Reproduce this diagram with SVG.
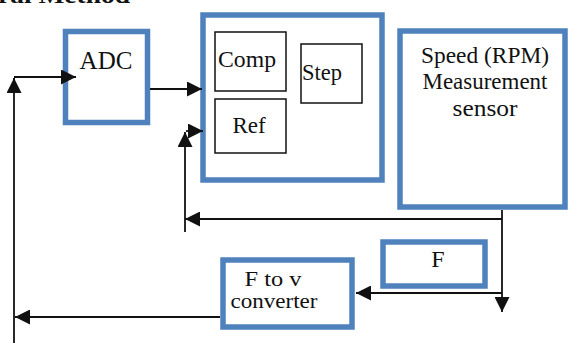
<svg xmlns="http://www.w3.org/2000/svg" width="569" height="343" viewBox="0 0 569 343">
<style>
.blk{fill:#fff;stroke:#4F81BD;stroke-width:5.5}
.inner{fill:#fff;stroke:#111;stroke-width:1.5}
.t{font-family:'Liberation Serif','DejaVu Serif','Times New Roman',Times,serif;font-size:23px;fill:#111}
.c{stroke:#111;stroke-width:1.8;fill:none}
</style>
<defs>
<marker id="ah" viewBox="0 0 10 10" refX="10" refY="5" markerUnits="userSpaceOnUse" markerWidth="15" markerHeight="15" orient="auto">
<path d="M0,0 L10,5 L0,10 Z" fill="#111"/>
</marker>
</defs>
<rect width="569" height="343" fill="#fff"/>
<text class="t" x="-2" y="3" font-weight="bold" font-size="20" textLength="132" lengthAdjust="spacingAndGlyphs">ral Method</text>

<g id="adc">
<rect class="blk" x="65.5" y="31.5" width="82" height="91"/>
<text class="t" x="106" y="69" text-anchor="middle" style="font-size:25px">ADC</text>
</g>

<g id="controller">
<rect class="blk" x="203" y="15" width="179" height="165" stroke-width="6"/>
</g>
<g id="comp">
<rect class="inner" x="215" y="32" width="71" height="59"/>
<text class="t" x="247" y="67" text-anchor="middle" textLength="58" lengthAdjust="spacingAndGlyphs">Comp</text>
</g>
<g id="ref">
<rect class="inner" x="215" y="99" width="71" height="54"/>
<text class="t" x="249" y="133" text-anchor="middle">Ref</text>
</g>
<g id="step">
<rect class="inner" x="301" y="44" width="61" height="59"/>
<text class="t" x="302" y="80" textLength="40" lengthAdjust="spacingAndGlyphs">Step</text>
</g>

<g id="sensor">
<rect class="blk" x="400" y="31" width="165" height="176" stroke-width="6"/>
<text class="t" x="485" y="63" text-anchor="middle" textLength="128" lengthAdjust="spacingAndGlyphs">Speed (RPM)</text>
<text class="t" x="485" y="89" text-anchor="middle" textLength="125" lengthAdjust="spacingAndGlyphs">Measurement</text>
<text class="t" x="485" y="116" text-anchor="middle" textLength="65" lengthAdjust="spacingAndGlyphs">sensor</text>
</g>

<g id="f">
<rect class="blk" x="383" y="242" width="102" height="44" stroke-width="6"/>
<text class="t" x="438" y="267" text-anchor="middle" style="font-size:24px">F</text>
</g>

<g id="ftov">
<rect class="blk" x="223" y="260" width="129" height="67" stroke-width="6"/>
<text class="t" x="273" y="286" text-anchor="middle" style="font-size:22px" textLength="57" lengthAdjust="spacingAndGlyphs">F to v</text>
<text class="t" x="274" y="308" text-anchor="middle" style="font-size:22px" textLength="87" lengthAdjust="spacingAndGlyphs">converter</text>
</g>

<g id="connectors">
<path class="c" d="M14,343 V78"/>
<path class="c" d="M14,92 V78" marker-end="url(#ah)"/>
<path class="c" d="M14,77 H76" marker-end="url(#ah)"/>
<path class="c" d="M150,89 H202" marker-end="url(#ah)"/>
<path class="c" d="M502,210 V312" marker-end="url(#ah)"/>
<path class="c" d="M502,219 H185" marker-end="url(#ah)"/>
<path class="c" d="M185,232 V132" marker-end="url(#ah)"/>
<path class="c" d="M186,131 H203" marker-end="url(#ah)"/>
<path class="c" d="M502,293 H356" marker-end="url(#ah)"/>
<path class="c" d="M220,317 H15" marker-end="url(#ah)"/>
</g>
</svg>
